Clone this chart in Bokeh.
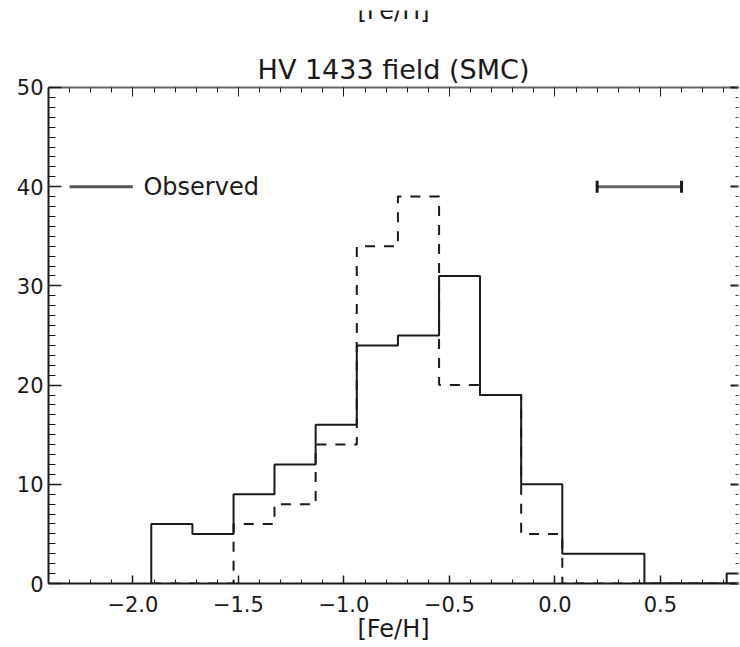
import numpy as np
from bokeh.plotting import figure
from bokeh.models import (Range1d, LinearAxis, SingleIntervalTicker, Whisker, TeeHead,
                          ColumnDataSource, Label, CustomJSTickFormatter)
from bokeh.core.properties import value
from bokeh.embed import file_html
from bokeh.resources import INLINE

# ---- data ----
bin_edges = [-1.913, -1.718, -1.523, -1.329, -1.134, -0.939, -0.744, -0.549,
             -0.355, -0.160, 0.035, 0.230, 0.424, 0.619, 0.814, 1.009]
observed = [6, 5, 9, 12, 16, 24, 25, 31, 19, 10, 3, 3, 0, 0, 1]
model = [0, 0, 6, 8, 14, 34, 39, 20, 19, 5, 0, 0, 0, 0, 0]

x_ticks = [-2.0, -1.5, -1.0, -0.5, 0.0, 0.5]
x_tick_labels = ["\u22122.0", "\u22121.5", "\u22121.0", "\u22120.5", "0.0", "0.5"]

legend_x = [-2.3, -2.0]
legend_y = 40
legend_text = "Observed"
legend_text_x = -1.95

err_center = 0.4
err_half = 0.2
err_y = 40

title_text = "HV 1433 field (SMC)"
xlabel = "[Fe/H]"

FONT = "DejaVu Sans"
INK = "#1a1a1a"

X0, X1 = -2.4, 0.87      # x axis range
Y0, Y1 = 0, 50           # y axis range (frame box)
Y_TOP = 57.76            # canvas room above the box (title, cut-off label)


def outline(edges, counts):
    xs = np.repeat(np.asarray(edges, float), 2)
    ys = np.concatenate([[0], np.repeat(np.asarray(counts, float), 2), [0]])
    return xs, ys


p = figure(width=740, height=647, x_range=Range1d(X0, X1), y_range=Range1d(Y0, Y_TOP),
           output_backend="svg", toolbar_location=None, title=None,
           min_border_left=48, min_border_right=2, min_border_top=10, min_border_bottom=64)
p.grid.visible = False
p.outline_line_color = None
p.background_fill_color = "white"
p.border_fill_color = "white"

fmt = CustomJSTickFormatter(args=dict(xt=x_ticks, xl=x_tick_labels), code="""
const i = xt.findIndex(t => Math.abs(t - tick) < 1e-9);
return i >= 0 ? xl[i] : '';
""")
blank = CustomJSTickFormatter(code="return '';")

# bottom axis
xa = p.xaxis[0]
xa.ticker = SingleIntervalTicker(interval=0.5, num_minor_ticks=5)
xa.formatter = fmt
xa.major_tick_in = 8
xa.major_tick_out = 0
xa.minor_tick_in = 4
xa.minor_tick_out = 0
xa.axis_line_width = 2
xa.axis_line_color = INK
xa.major_tick_line_color = INK
xa.minor_tick_line_color = INK
xa.major_tick_line_width = 1.5
xa.major_label_text_font = FONT
xa.major_label_text_font_size = "21px"
xa.major_label_text_color = INK
xa.major_label_standoff = 12
xa.axis_label = xlabel
xa.axis_label_text_font = FONT
xa.axis_label_text_font_size = "24px"
xa.axis_label_text_font_style = "normal"
xa.axis_label_text_color = INK
xa.axis_label_standoff = 0

# left axis
ya = p.yaxis[0]
ya.ticker = SingleIntervalTicker(interval=10, num_minor_ticks=10)
ya.bounds = (Y0, Y1)
ya.major_tick_in = 13
ya.major_tick_out = 0
ya.minor_tick_in = 7
ya.minor_tick_out = 0
ya.axis_line_width = 2
ya.axis_line_color = INK
ya.major_tick_line_color = INK
ya.minor_tick_line_color = INK
ya.major_tick_line_width = 1.5
ya.major_label_text_font = FONT
ya.major_label_text_font_size = "21px"
ya.major_label_text_color = INK
ya.major_label_standoff = 5

# top axis (ticks only) drawn on the top of the box
top = LinearAxis(ticker=SingleIntervalTicker(interval=0.5, num_minor_ticks=5), formatter=blank,
                 fixed_location=Y1,
                 major_tick_in=9, major_tick_out=0, minor_tick_in=5, minor_tick_out=0,
                 axis_line_width=2, axis_line_color="#666666",
                 major_tick_line_color=INK, minor_tick_line_color=INK,
                 major_label_standoff=0)
p.add_layout(top, "above")

# right axis (ticks only)
right = LinearAxis(ticker=SingleIntervalTicker(interval=10, num_minor_ticks=10), formatter=blank,
                   bounds=(Y0, Y1),
                   major_tick_in=8, major_tick_out=0, minor_tick_in=3, minor_tick_out=0,
                   axis_line_color=None,
                   major_tick_line_color=INK, minor_tick_line_color="#444444",
                   major_tick_line_width=2, major_label_standoff=0)
p.add_layout(right, "right")

# histograms
mx, my = outline(bin_edges, model)
p.line(mx, my, line_color=INK, line_width=2, line_dash="10 9")
ox, oy = outline(bin_edges, observed)
p.line(ox, oy, line_color=INK, line_width=2)

# legend sample
p.line(legend_x, [legend_y, legend_y], line_color="#555555", line_width=3)
p.text(x=[legend_text_x], y=[legend_y], text=[legend_text], text_font=value(FONT),
       text_font_size="24px", text_baseline="middle", text_align="left", text_color=INK)

# error bar
es = ColumnDataSource(dict(base=[err_y], lower=[err_center - err_half], upper=[err_center + err_half]))
p.add_layout(Whisker(source=es, base="base", lower="lower", upper="upper", dimension="width",
                     line_color="#666666", line_width=3,
                     lower_head=TeeHead(size=12, line_color=INK, line_width=3),
                     upper_head=TeeHead(size=12, line_color=INK, line_width=3)))

xmid = (X0 + X1) / 2
# title above the box
p.add_layout(Label(x=xmid, y=Y1 + 1.85, text=title_text, text_font=FONT, text_font_size="27px",
                   text_align="center", text_baseline="alphabetic", text_color=INK))
# cut-off x-axis label of the panel above (only its lower part is inside the picture)
p.add_layout(Label(x=xmid, y=Y_TOP - 0.1, text=xlabel, text_font=FONT, text_font_size="24px",
                   text_align="center", text_baseline="alphabetic", text_color=INK))

open("out.html", "w").write(file_html(p, INLINE))
